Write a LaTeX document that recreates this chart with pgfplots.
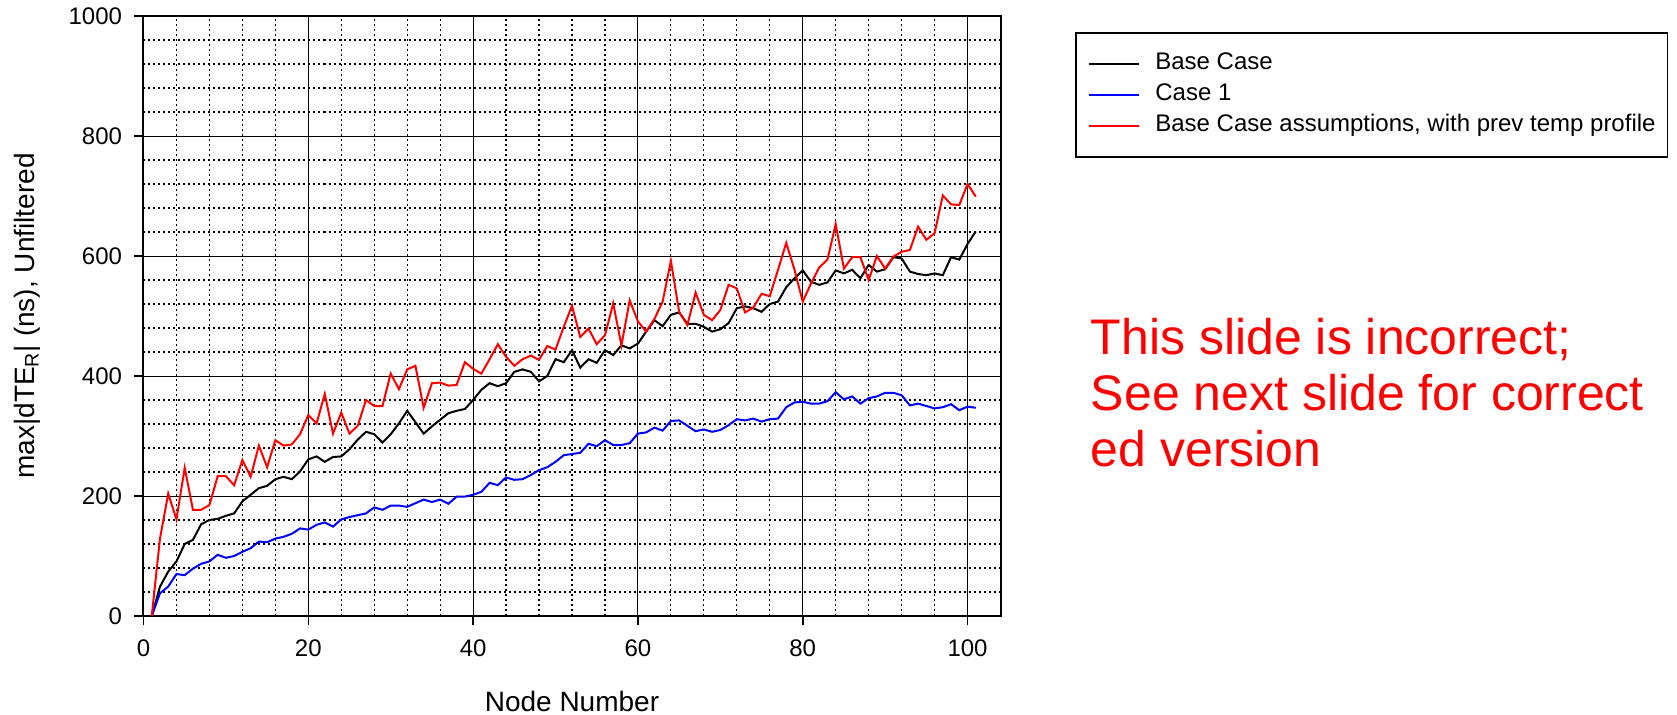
\documentclass[border=0pt]{standalone}
\usepackage{fontspec}
\setmainfont{Liberation Sans}
\usepackage{pgfplots}
\usepackage{pgfplotstable}
\pgfplotsset{compat=1.18}
\pgfplotstableread{
n black blue red
1 0 0 0
2 49 38 129
3 74 49 204
4 91 70 161
5 120 68 247
6 127 79 177
7 153 87 177
8 160 91 185
9 162 102 233
10 167 97 233
11 171 100 218
12 191 107 260
13 202 113 232
14 213 124 284
15 217 123 248
16 228 129 293
17 232 132 284
18 228 137 286
19 241 146 303
20 261 144 335
21 266 152 321
22 257 156 370
23 265 149 304
24 266 161 339
25 278 165 304
26 294 168 317
27 307 171 360
28 303 181 350
29 289 177 350
30 303 184 404
31 321 184 378
32 342 182 411
33 323 188 417
34 304 194 347
35 316 190 388
36 327 194 389
37 338 187 384
38 342 199 385
39 345 199 423
40 360 202 412
41 377 207 404
42 388 222 428
43 383 218 453
44 388 231 432
45 407 227 417
46 411 228 428
47 407 235 434
48 391 243 427
49 400 248 450
50 428 257 444
51 423 268 482
52 443 270 517
53 414 272 465
54 428 287 479
55 422 283 453
56 443 293 468
57 435 285 521
58 451 285 451
59 446 288 526
60 454 304 491
61 474 306 474
62 493 314 495
63 483 309 524
64 502 325 592
65 506 326 507
66 487 317 485
67 487 308 539
68 482 311 502
69 474 307 493
70 478 310 510
71 488 318 552
72 513 328 546
73 516 326 506
74 513 329 514
75 507 324 537
76 520 328 533
77 524 329 577
78 548 348 622
79 563 356 577
80 576 357 524
81 557 354 554
82 552 354 581
83 556 358 594
84 576 373 653
85 571 361 579
86 577 366 598
87 563 354 598
88 585 363 560
89 574 366 600
90 578 372 579
91 598 372 599
92 596 368 607
93 574 351 610
94 570 354 649
95 568 350 627
96 571 346 638
97 568 348 701
98 598 353 686
99 594 343 685
100 620 349 720
101 641 347 699
}\datatable
\begin{document}
\begin{tikzpicture}
\path[use as bounding box] (-71.75pt,-49pt) rectangle (766.75pt,308pt);
\begin{axis}[
  at={(0pt,0pt)}, anchor=south west,
  scale only axis, width=428.5pt, height=300pt,
  xmin=0, xmax=104, ymin=0, ymax=1000,
  xtick={0,20,...,100}, ytick={0,200,...,1000},
  minor x tick num=4, minor y tick num=4,
  grid=both,
  major grid style={black, line width=0.5pt, solid},
  minor grid style={black, line width=0.6pt, dash pattern=on 1pt off 1.5pt},
  axis line style={black, line width=1pt},
  tick align=outside, xtick pos=left, ytick pos=left,
  major tick length=4.5pt, minor tick length=0pt,
  tick style={black, line width=0.8pt},
  ticklabel style={font=\fontsize{12}{14}\selectfont},
  xticklabel style={yshift=-4pt},
  yticklabel style={xshift=-2.7pt},
  /pgf/number format/assume math mode=true,
  /pgf/number format/1000 sep={},
  xlabel={Node Number},
  ylabel={max|dTE\textsubscript{R}| (ns), Unfiltered},
  label style={font=\fontsize{14}{16}\selectfont},
  xlabel style={at={(axis description cs:0.5,0)}, anchor=base, yshift=-47.5pt},
  ylabel style={at={(axis description cs:-0.1275,0.5)}, anchor=base},
  legend style={at={(axis description cs:1.0869,0.973)}, anchor=north west,
    draw=black, line width=0.8pt, fill=white,
    font=\fontsize{12}{14}\selectfont,
    inner xsep=6pt, inner ysep=10pt, row sep=4.5pt,
    nodes={inner sep=0pt, text height=8.5pt, text depth=2.5pt},
    /tikz/every odd column/.append style={column sep=8pt}},
  legend cell align=left,
  legend image code/.code={\draw[#1, line width=0.8pt] (0pt,0pt) -- (25pt,0pt);},
]
\addplot[black, line width=1pt] table[x=n, y=black] {\datatable};
\addlegendentry{Base Case}
\addplot[blue, line width=1pt] table[x=n, y=blue] {\datatable};
\addlegendentry{Case 1}
\addplot[red, line width=1pt] table[x=n, y=red] {\datatable};
\addlegendentry{Base Case assumptions, with prev temp profile}
\end{axis}
\node[anchor=base west, inner sep=0pt, text=red, font=\fontsize{25}{28}\selectfont] at (473.5pt,131pt) {This slide is incorrect;};
\node[anchor=base west, inner sep=0pt, text=red, font=\fontsize{25}{28}\selectfont] at (473.5pt,103pt) {See next slide for correct};
\node[anchor=base west, inner sep=0pt, text=red, font=\fontsize{25}{28}\selectfont] at (473.5pt,75pt) {ed version};
\end{tikzpicture}
\end{document}
